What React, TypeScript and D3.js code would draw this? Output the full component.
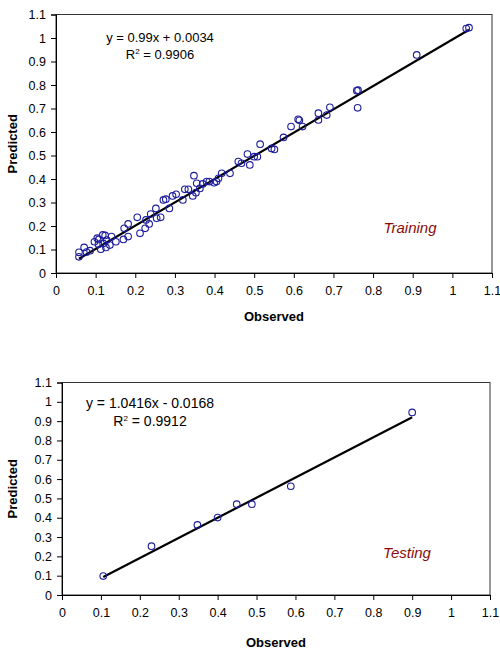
import React from 'react'
import * as d3 from 'd3'

// training set (observed, predicted)
const trainObserved = [
  0.058, 0.058, 0.071, 0.077, 0.086, 0.097, 0.108, 0.113, 0.118, 0.124,
  0.119, 0.128, 0.126, 0.136, 0.14, 0.151, 0.17, 0.182, 0.172, 0.182,
  0.205, 0.212, 0.225, 0.227, 0.235, 0.239, 0.252, 0.254, 0.264, 0.271,
  0.277, 0.286, 0.294, 0.303, 0.32, 0.325, 0.334, 0.345, 0.348, 0.355,
  0.353, 0.363, 0.37, 0.38, 0.387, 0.399, 0.405, 0.41, 0.418, 0.439,
  0.46, 0.468, 0.483, 0.489, 0.5, 0.508, 0.515, 0.544, 0.551, 0.574,
  0.593, 0.611, 0.614, 0.622, 0.662, 0.662, 0.683, 0.691, 0.759, 0.762,
  0.761, 0.91, 1.035, 1.042, 0.104, 0.107,
]
const trainPredicted = [
  0.069, 0.088, 0.109, 0.089, 0.095, 0.133, 0.143, 0.101, 0.162, 0.16,
  0.126, 0.14, 0.109, 0.119, 0.155, 0.133, 0.143, 0.155, 0.19, 0.209,
  0.237, 0.169, 0.19, 0.226, 0.209, 0.251, 0.275, 0.233, 0.237, 0.311,
  0.314, 0.275, 0.328, 0.335, 0.311, 0.356, 0.356, 0.328, 0.414, 0.382,
  0.342, 0.36, 0.379, 0.389, 0.389, 0.384, 0.389, 0.403, 0.424, 0.424,
  0.474, 0.467, 0.506, 0.46, 0.495, 0.495, 0.548, 0.53, 0.526, 0.577,
  0.623, 0.654, 0.65, 0.623, 0.68, 0.651, 0.672, 0.705, 0.776, 0.778,
  0.703, 0.928, 1.04, 1.044, 0.148, 0.122,
]

// testing set
const testObserved = [0.106, 0.23, 0.348, 0.4, 0.449, 0.488, 0.588, 0.9]
const testPredicted = [0.098, 0.253, 0.363, 0.401, 0.47, 0.47, 0.563, 0.945]

const tickValues = [0, 0.1, 0.2, 0.3, 0.4, 0.5, 0.6, 0.7, 0.8, 0.9, 1, 1.1]
const tickLabels = ['0', '0.1', '0.2', '0.3', '0.4', '0.5', '0.6', '0.7', '0.8', '0.9', '1', '1.1']

const panels = [
  {
    obs: trainObserved, pred: trainPredicted,
    slope: 0.99, intercept: 0.0034,
    eq: 'y = 0.99x + 0.0034', r2: '0.9906', label: 'Training',
    left: 56, right: 492, top: 14.5, bottom: 273,
    eqX: 160, eqY: 42, eqSize: 13, labelX: 410, labelY: 233,
    xTitleY: 321,
  },
  {
    obs: testObserved, pred: testPredicted,
    slope: 1.0416, intercept: -0.0168,
    eq: 'y = 1.0416x - 0.0168', r2: '0.9912', label: 'Testing',
    left: 62, right: 490, top: 382.5, bottom: 595,
    eqX: 150, eqY: 408, eqSize: 14, labelX: 407, labelY: 558,
    xTitleY: 647,
  },
]

const FONT = '"Liberation Sans", Arial, sans-serif'

const App = () => {
  const ref = React.useRef<SVGSVGElement>(null)

  React.useEffect(() => {
    const svg = d3.select(ref.current)
    svg.selectAll('*').remove()

    panels.forEach((p) => {
      const x = d3.scaleLinear().domain([0, 1.1]).range([p.left, p.right])
      const y = d3.scaleLinear().domain([0, 1.1]).range([p.bottom, p.top])
      const g = svg.append('g')

      // frame
      g.append('rect')
        .attr('x', p.left)
        .attr('y', p.top)
        .attr('width', p.right - p.left)
        .attr('height', p.bottom - p.top)
        .attr('fill', 'none')
        .attr('stroke', '#333')
        .attr('stroke-width', 1)

      const xAxis = g.append('g')
        .attr('transform', `translate(0,${p.bottom})`)
        .call(d3.axisBottom(x).tickValues(tickValues).tickSize(5).tickPadding(8)
          .tickFormat((d, i) => tickLabels[i]))
      const yAxis = g.append('g')
        .attr('transform', `translate(${p.left},0)`)
        .call(d3.axisLeft(y).tickValues(tickValues).tickSize(5).tickPadding(5)
          .tickFormat((d, i) => tickLabels[i]))

      ;[xAxis, yAxis].forEach((a) => {
        a.select('.domain').attr('stroke', '#000')
        a.selectAll('line').attr('stroke', '#000')
        a.selectAll('text')
          .style('font-family', FONT)
          .style('font-size', '12.5px')
          .attr('fill', '#000')
      })

      // fit line
      const xMin = d3.min(p.obs) as number
      const xMax = d3.max(p.obs) as number
      g.append('line')
        .attr('x1', x(xMin))
        .attr('y1', y(p.slope * xMin + p.intercept))
        .attr('x2', x(xMax))
        .attr('y2', y(p.slope * xMax + p.intercept))
        .attr('stroke', '#000')
        .attr('stroke-width', 2.2)

      // points
      g.selectAll('.pt')
        .data(p.obs)
        .enter()
        .append('circle')
        .attr('class', 'pt')
        .attr('cx', (d) => x(d))
        .attr('cy', (d, i) => y(p.pred[i]))
        .attr('r', 3.3)
        .attr('fill', 'none')
        .attr('stroke', '#1c1c9c')
        .attr('stroke-width', 1.1)

      // equation
      g.append('text')
        .attr('x', p.eqX)
        .attr('y', p.eqY)
        .attr('text-anchor', 'middle')
        .style('font-family', FONT)
        .style('font-size', p.eqSize + 'px')
        .text(p.eq)
      const r2 = g.append('text')
        .attr('x', p.eqX)
        .attr('y', p.eqY + (p.eqSize + 4))
        .attr('text-anchor', 'middle')
        .style('font-family', FONT)
        .style('font-size', p.eqSize + 'px')
      r2.append('tspan').text('R')
      r2.append('tspan').attr('dy', -5).style('font-size', '8px').text('2')
      r2.append('tspan').attr('dy', 5).text(' = ' + p.r2)

      g.append('text')
        .attr('x', p.labelX)
        .attr('y', p.labelY)
        .attr('text-anchor', 'middle')
        .style('font-family', FONT)
        .style('font-size', '15px')
        .style('font-style', 'italic')
        .attr('fill', '#8b0a0a')
        .text(p.label)

      // axis titles
      g.append('text')
        .attr('x', (p.left + p.right) / 2)
        .attr('y', p.xTitleY)
        .attr('text-anchor', 'middle')
        .style('font-family', FONT)
        .style('font-size', '13px')
        .style('font-weight', 'bold')
        .text('Observed')
      g.append('text')
        .attr('transform', `translate(17,${(p.top + p.bottom) / 2}) rotate(-90)`)
        .attr('text-anchor', 'middle')
        .style('font-family', FONT)
        .style('font-size', '13px')
        .style('font-weight', 'bold')
        .text('Predicted')
    })
  }, [])

  return (
    <div style={{ position: 'absolute', left: 0, top: 0, width: 500, height: 650, background: '#fff' }}>
      <svg ref={ref} width={500} height={650}></svg>
    </div>
  )
}

export default App
